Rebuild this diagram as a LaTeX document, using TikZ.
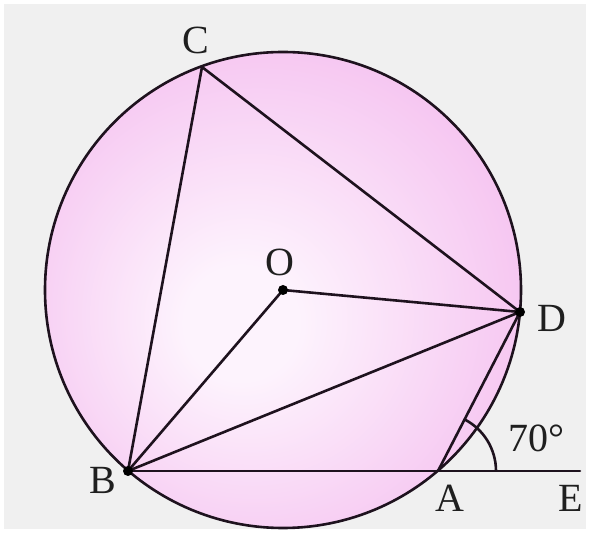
\documentclass[tikz,border=0pt]{standalone}
\usepackage{fontspec}
\setmainfont{Liberation Serif}
\usetikzlibrary{angles}
\definecolor{bggray}{RGB}{240,240,240}
\definecolor{pinkin}{RGB}{253,243,253}
\definecolor{pinkmid}{RGB}{246,198,241}
\definecolor{pinkout}{RGB}{242,162,231}
\definecolor{inkline}{RGB}{30,18,30}
\pgfdeclareradialshading{pinkball}{\pgfpoint{-5bp}{-4bp}}{color(0bp)=(pinkin); color(6bp)=(pinkin); color(28bp)=(pinkmid); color(50bp)=(pinkout)}
\tikzset{
  seg/.style={draw=inkline, line width=2.6pt, line cap=round, line join=round},
  ptdot/.style={circle, fill=black, inner sep=0pt, minimum size=10pt},
  lbl/.style={inner sep=0pt, font=\fontsize{40}{40}\selectfont, text=black!88}
}
\begin{document}
\begin{tikzpicture}[x=1pt,y=1pt]
\useasboundingbox (0,0) rectangle (590,533);
\fill[white] (0,0) rectangle (590,533);
\fill[bggray] (4,4) rectangle (586,529);
\coordinate (O) at (283,243);
\coordinate (C) at (202,466);
\coordinate (D) at (520,221);
\coordinate (B) at (128,62);
\coordinate (A) at (438,62);
\coordinate (E) at (580,62);
\shade[shading=pinkball] (O) circle (238);
\draw[seg] (O) circle (238);
\draw[seg] (C) -- (B);
\draw[seg] (C) -- (D);
\draw[seg] (O) -- (B);
\draw[seg] (O) -- (D);
\draw[seg] (B) -- (D);
\draw[seg] (B) -- (A);
\draw[seg] (A) -- (D);
\draw[seg] (A) -- (E);
\pic[draw=inkline, line width=2.6pt, angle radius=58pt] {angle=E--A--D};
\node[ptdot] (Odot) at (O) {};
\node[ptdot] (Bdot) at (B) {};
\node[ptdot] (Ddot) at (D) {};
\node[lbl] (lC) at (196,493) {C};
\node[lbl] (lO) at (280,271) {O};
\node[lbl] (lD) at (552,215) {D};
\node[lbl] (lB) at (103,53) {B};
\node[lbl] (lA) at (450,35) {A};
\node[lbl] (lE) at (571,35) {E};
\node[lbl] (l70) at (536,95) {70°};
\end{tikzpicture}
\end{document}
